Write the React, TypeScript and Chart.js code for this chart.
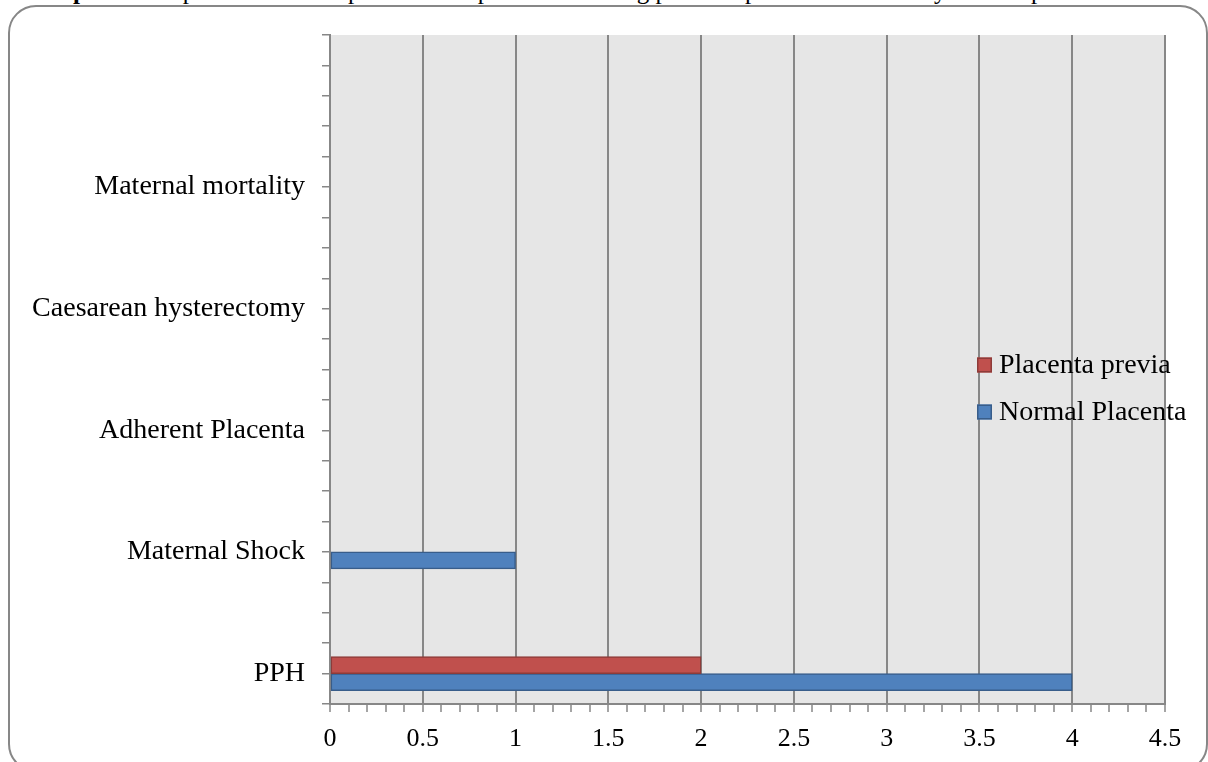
import React, { useEffect, useRef } from 'react';
import { Chart, registerables } from 'chart.js';

Chart.register(...registerables);

// ---- data (top to bottom as shown) ----
const categories = ['Maternal mortality', 'Caesarean hysterectomy', 'Adherent Placenta', 'Maternal Shock', 'PPH'];
const placentaPrevia = [0, 0, 0, 0, 2];
const normalPlacenta = [0, 0, 0, 1, 4];
const seriesNames = ['Placenta previa', 'Normal Placenta'];
const xTickLabels = ['0', '0.5', '1', '1.5', '2', '2.5', '3', '3.5', '4', '4.5'];
const titleBold = 'Graph 4:';
const titleText = ' Comparison of intraoperative complications among placenta previa and normally located placenta';

// ---- category axis layout (Excel-style minor divisions) ----
const SLOT_COUNT = 23;
const FIRST_SLOT = 5;
const SLOT_GAP = 4;

const slotLabels: string[] = Array(SLOT_COUNT).fill('');
categories.forEach((c, i) => { slotLabels[FIRST_SLOT + SLOT_GAP * i] = c; });
const expand = (vals: number[]) => {
  const a: (number | null)[] = Array(SLOT_COUNT).fill(null);
  vals.forEach((v, i) => { a[FIRST_SLOT + SLOT_GAP * i] = v; });
  return a;
};

const FONT = 'Liberation Serif';
const GRID = '#878787';

const plotBg = {
  id: 'plotBg',
  beforeDraw(chart: any) {
    const { ctx, chartArea } = chart;
    ctx.save();
    ctx.fillStyle = '#E6E6E6';
    ctx.fillRect(chartArea.left, chartArea.top, chartArea.right - chartArea.left, chartArea.bottom - chartArea.top);
    ctx.restore();
  },
};

const innerLegend = {
  id: 'innerLegend',
  afterDraw(chart: any) {
    const { ctx, chartArea } = chart;
    const x0 = chartArea.right - 188;
    const y0 = chartArea.top + 330;
    const gap = 47;
    ctx.save();
    chart.data.datasets.forEach((ds: any, i: number) => {
      const yc = y0 + i * gap;
      ctx.fillStyle = ds.legendFill;
      ctx.fillRect(x0, yc - 7.5, 15, 15);
      ctx.strokeStyle = ds.borderColor;
      ctx.lineWidth = 1.5;
      ctx.strokeRect(x0 + 0.75, yc - 6.75, 13.5, 13.5);
      ctx.fillStyle = '#000';
      ctx.font = `28px "${FONT}"`;
      ctx.textBaseline = 'middle';
      ctx.textAlign = 'left';
      ctx.fillText(ds.label, x0 + 22, yc + 1);
    });
    ctx.restore();
  },
};

const RED = '#C0504D';
const BLUE = '#4F81BD';

function BarChart() {
  const ref = useRef<HTMLCanvasElement | null>(null);
  useEffect(() => {
    if (!ref.current) return;
    const isMajor = (v: number) => xTickLabels.includes(String(v));
    const chart = new Chart(ref.current, {
      type: 'bar',
      data: {
        labels: slotLabels,
        datasets: [
          {
            label: seriesNames[0],
            data: expand(placentaPrevia),
            legendFill: RED,
            backgroundColor: (ctx: any) => (ctx.raw ? RED : 'rgba(0,0,0,0)'),
            borderColor: '#8E3B39',
            borderWidth: (ctx: any) => (ctx.raw ? 1.5 : 0),
            borderSkipped: false,
            barThickness: 17,
          },
          {
            label: seriesNames[1],
            data: expand(normalPlacenta),
            legendFill: BLUE,
            backgroundColor: (ctx: any) => (ctx.raw ? BLUE : 'rgba(0,0,0,0)'),
            borderColor: '#385D8A',
            borderWidth: (ctx: any) => (ctx.raw ? 1.5 : 0),
            borderSkipped: false,
            barThickness: 17,
          },
        ],
      },
      options: {
        indexAxis: 'y',
        responsive: false,
        animation: false,
        layout: { padding: { top: 35, right: 43, left: 0, bottom: 0 } },
        plugins: {
          legend: { display: false },
          tooltip: { enabled: false },
          title: { display: false },
        },
        scales: {
          x: {
            type: 'linear',
            min: 0,
            max: 4.5,
            ticks: {
              stepSize: 0.1,
              autoSkip: false,
              maxRotation: 0,
              minRotation: 0,
              padding: 12,
              color: '#000',
              font: { family: FONT, size: 26 },
              callback: (v: any) => (isMajor(Number(v)) ? String(v) : ''),
            },
            grid: {
              color: (ctx: any) => (ctx.tick && isMajor(ctx.tick.value) ? GRID : 'rgba(0,0,0,0)'),
              tickColor: GRID,
              lineWidth: 2,
              tickWidth: 1.5,
              tickLength: 8,
              drawTicks: true,
            },
            border: { display: true, color: GRID, width: 2 },
            afterFit: (s: any) => { s.height = 58; },
          },
          y: {
            type: 'category',
            offset: false,
            ticks: {
              autoSkip: false,
              padding: 17,
              color: '#000',
              font: { family: FONT, size: 28 },
            },
            grid: {
              offset: false,
              drawOnChartArea: false,
              drawTicks: true,
              tickLength: 8,
              color: GRID,
              lineWidth: 1.5,
            },
            border: { display: true, color: GRID, width: 2 },
            afterFit: (s: any) => { s.width = 330; },
          },
        },
      },
      plugins: [plotBg, innerLegend],
    } as any);
    return () => chart.destroy();
  }, []);
  return (
    <canvas
      ref={ref}
      width={1208}
      height={762}
      style={{ position: 'absolute', left: 0, top: 0, width: 1208, height: 762 }}
    />
  );
}

export default function App() {
  return (
    <div style={{ position: 'fixed', left: 0, top: 0, width: 1208, height: 762, overflow: 'hidden', background: '#fff' }}>
      <div
        style={{
          position: 'absolute',
          left: 30,
          top: -22,
          fontFamily: FONT,
          fontSize: 25,
          lineHeight: '25px',
          whiteSpace: 'nowrap',
          color: '#000',
        }}
      >
        <b>{titleBold}</b>
        {titleText}
      </div>
      <div
        style={{
          position: 'absolute',
          left: 8,
          top: 5,
          width: 1200,
          height: 767,
          boxSizing: 'border-box',
          border: '2px solid #878787',
          borderRadius: 28,
        }}
      />
      <BarChart />
    </div>
  );
}
